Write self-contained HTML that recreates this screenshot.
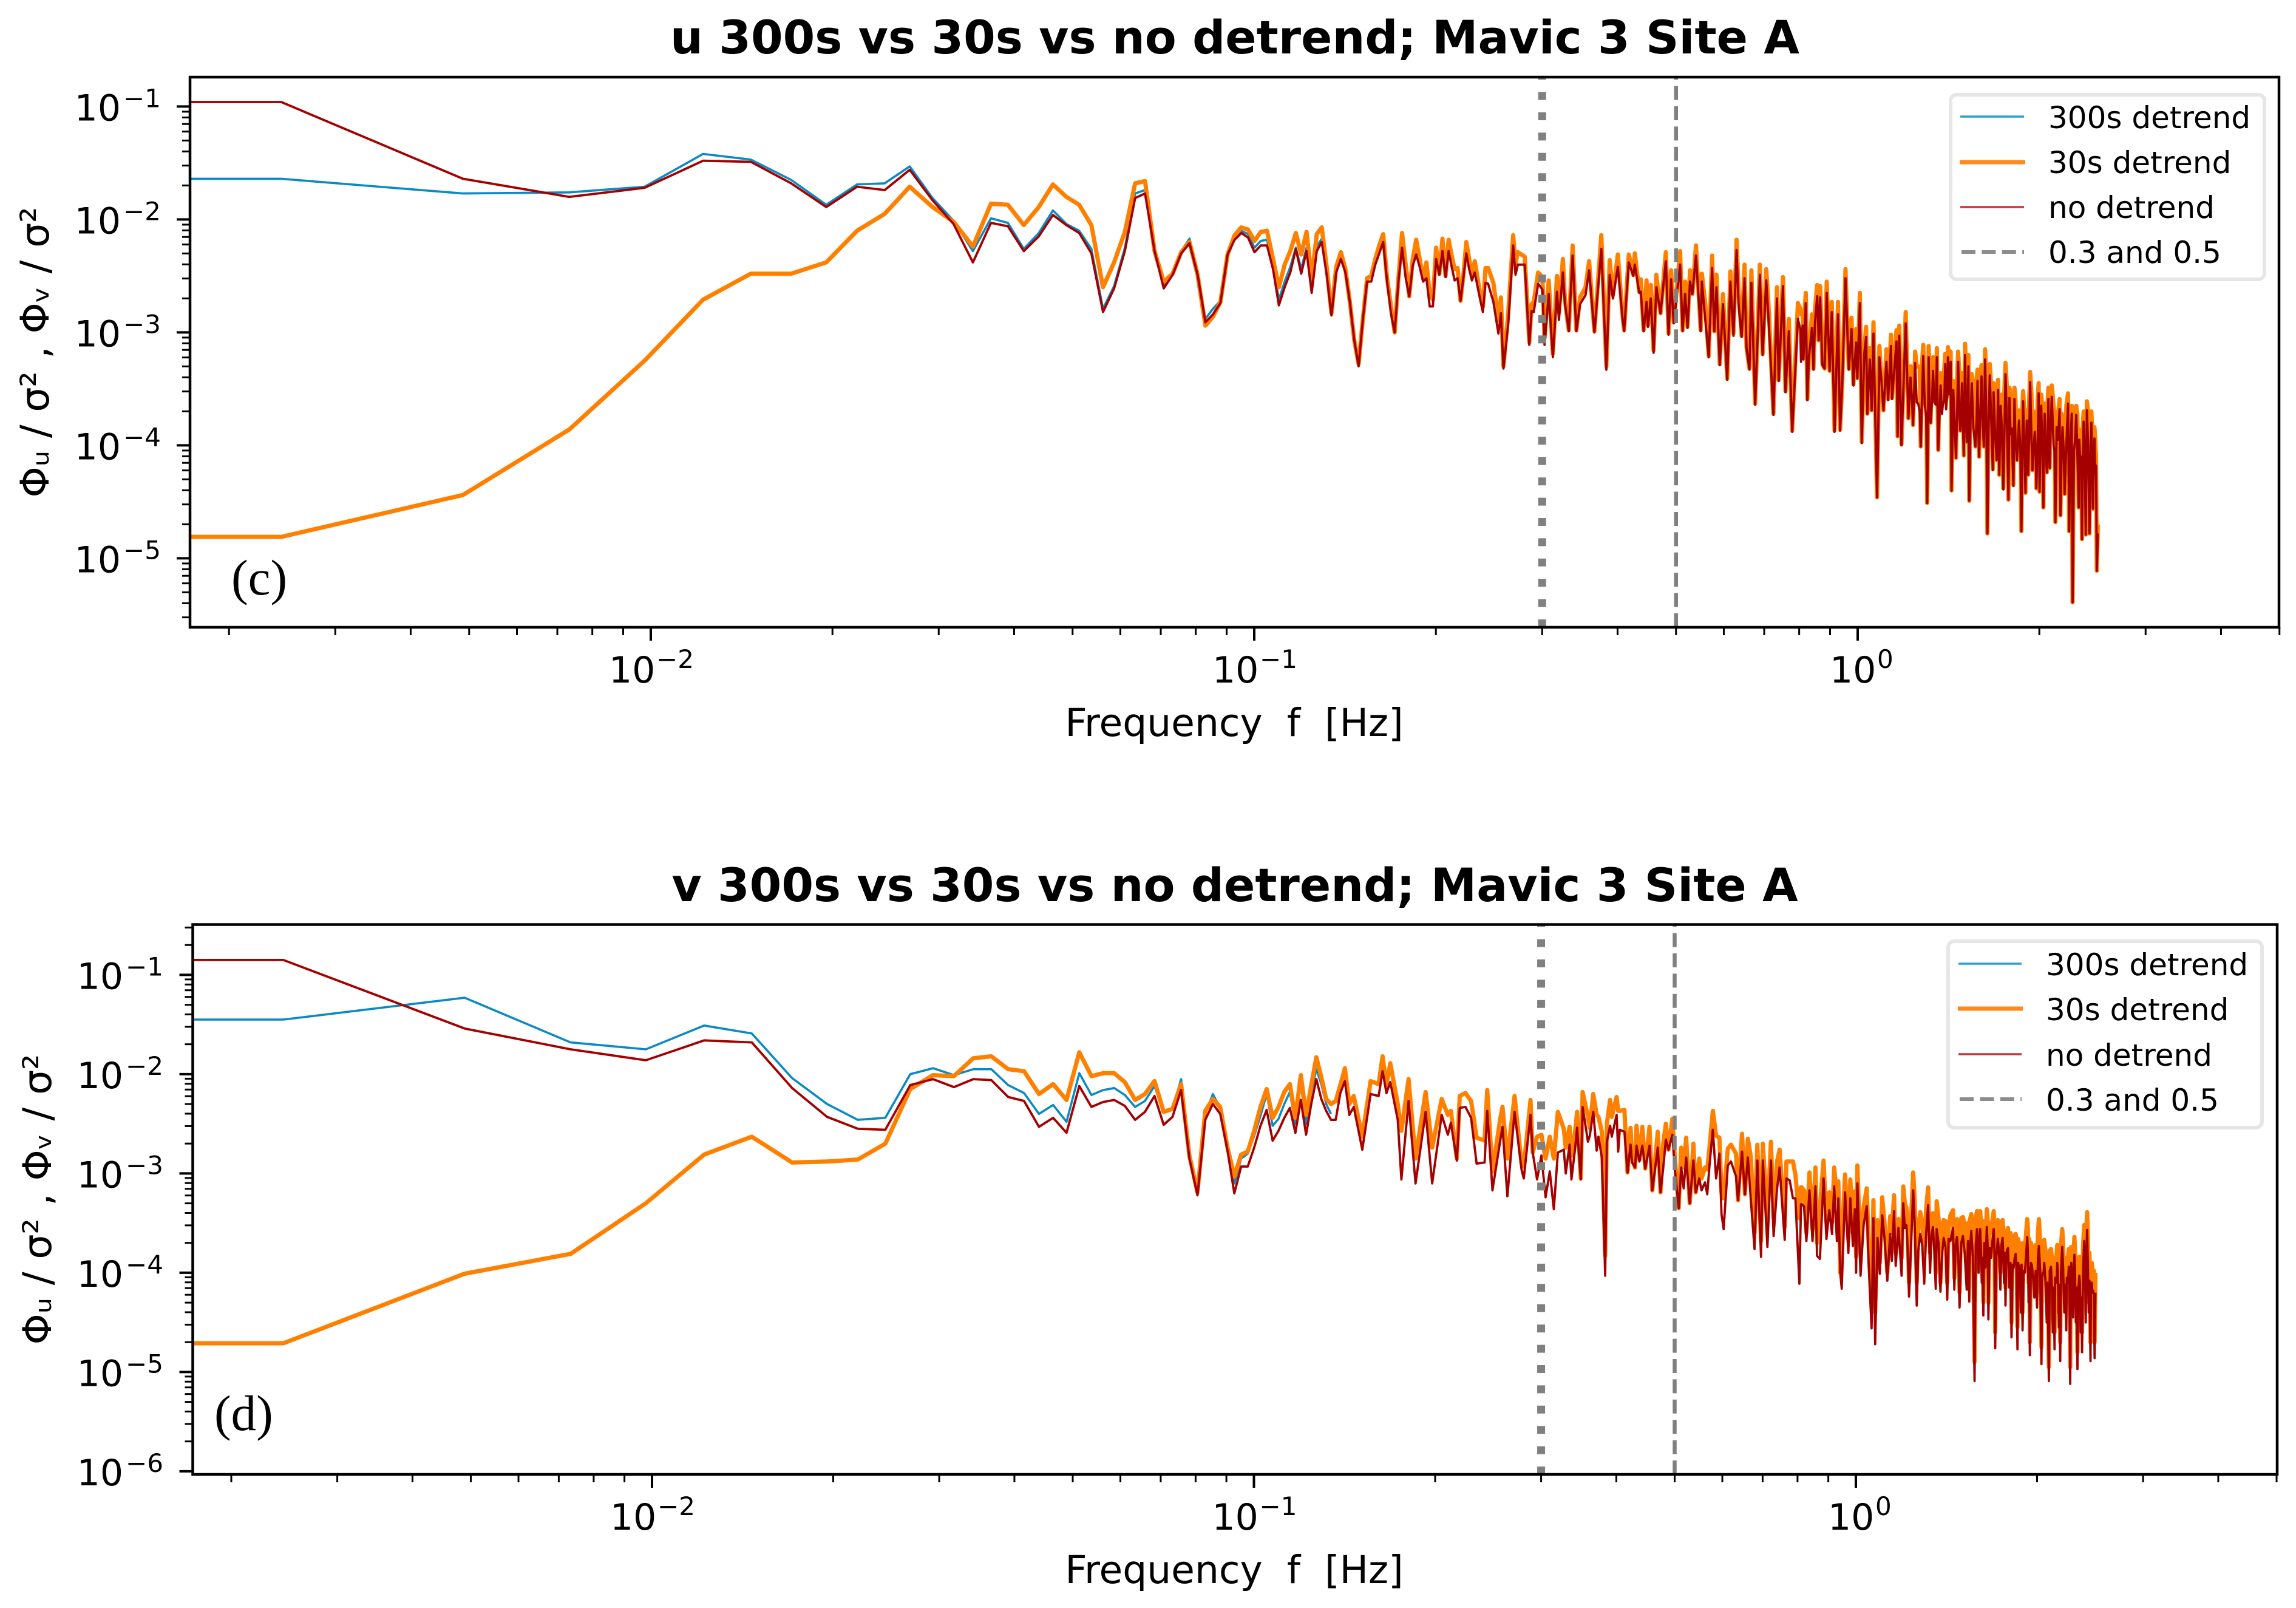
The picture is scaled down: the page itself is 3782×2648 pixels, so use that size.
<!DOCTYPE html>
<html lang="en">
<head>
<meta charset="utf-8">
<title>u and v 300s vs 30s vs no detrend; Mavic 3 Site A</title>
<style>
  html, body { margin: 0; padding: 0; background: #ffffff; }
  svg { display: block; }
  text { font-family: "DejaVu Sans", "Liberation Sans", sans-serif; fill: #000; white-space: pre; }
  .title { font-size: 75.7px; font-weight: bold; text-anchor: middle; }
  .axis-label { font-size: 63px; text-anchor: middle; }
  .y-title { font-size: 65px; text-anchor: middle; }
  .legend-text { font-size: 50px; }
  .panel-tag { font-family: "Liberation Serif", serif; font-size: 83px; }
  .tick-label { font-size: 60px; }
</style>
</head>
<body>
<svg id="figure" xmlns="http://www.w3.org/2000/svg" width="3782" height="2648" viewBox="0 0 3782 2648">
  <rect width="3782" height="2648" fill="#ffffff"/>
  <g id="panel-c"></g>
  <g id="panel-d"></g>

  <text class="title" x="2034" y="88">u 300s vs 30s vs no detrend; Mavic 3 Site A</text>
  <text class="axis-label" x="2033" y="1212">Frequency  f  [Hz]</text>
  <text class="y-title" transform="translate(80 580) rotate(-90)" x="0" y="0">Φᵤ / σ² , Φᵥ / σ²</text>
  <text class="panel-tag" x="381" y="979">(c)</text>

  <text class="title" x="2034" y="1484">v 300s vs 30s vs no detrend; Mavic 3 Site A</text>
  <text class="axis-label" x="2033" y="2607">Frequency  f  [Hz]</text>
  <text class="y-title" transform="translate(84 1975) rotate(-90)" x="0" y="0">Φᵤ / σ² , Φᵥ / σ²</text>
  <text class="panel-tag" x="353" y="2355">(d)</text>

  <g>
    <rect x="3213" y="156" width="517" height="304" rx="10" fill="#ffffff" stroke="#e6e6e6" stroke-width="6"/>
    <line x1="3229" x2="3334" y1="192" y2="192" stroke="#2f9fd2" stroke-width="3.5"/>
    <text class="legend-text" x="3374" y="211">300s detrend</text>
    <line x1="3228" x2="3336" y1="267" y2="267" stroke="#ff8a1c" stroke-width="7"/>
    <text class="legend-text" x="3374" y="285">30s detrend</text>
    <line x1="3229" x2="3334" y1="341" y2="341" stroke="#c23a3a" stroke-width="3.5"/>
    <text class="legend-text" x="3374" y="359">no detrend</text>
    <line x1="3231" x2="3334" y1="415" y2="415" stroke="#8c8c8c" stroke-width="6" stroke-dasharray="23 10.4"/>
    <text class="legend-text" x="3374" y="433">0.3 and 0.5</text>
  </g>

  <g>
    <rect x="3209" y="1550" width="517" height="307" rx="10" fill="#ffffff" stroke="#e6e6e6" stroke-width="6"/>
    <line x1="3226" x2="3330" y1="1587" y2="1587" stroke="#2f9fd2" stroke-width="3.5"/>
    <text class="legend-text" x="3370" y="1606">300s detrend</text>
    <line x1="3225" x2="3332" y1="1661" y2="1661" stroke="#ff8a1c" stroke-width="7"/>
    <text class="legend-text" x="3370" y="1680">30s detrend</text>
    <line x1="3226" x2="3330" y1="1736" y2="1736" stroke="#c23a3a" stroke-width="3.5"/>
    <text class="legend-text" x="3370" y="1755">no detrend</text>
    <line x1="3228" x2="3330" y1="1810" y2="1810" stroke="#8c8c8c" stroke-width="6" stroke-dasharray="23 10.4"/>
    <text class="legend-text" x="3370" y="1829">0.3 and 0.5</text>
  </g>
</svg>

<script>
// Frequency resolution of the spectra [Hz per bin]
const binWidthHz = 5 / 2048;

// Reference frequencies [Hz]
const referenceFrequencies = [0.3, 0.5];

// Tick labels, as powers of ten
const xTickExponents = [-2, -1, 0];
const yTickExponentsC = [-1, -2, -3, -4, -5];
const yTickExponentsD = [-1, -2, -3, -4, -5, -6];

// Panel (c): bin number of each read sample (0.5 = the flat lead-in left of the axis)
const binsC = [
0.5,1,2,3,4,5,6,7,8,9,
10,11,12,13,14,15,16,17,18,19,
20,21,22,23,24,25,26,27,28,29,
30,31,32,33,34,35,36,37,38,39,
40,41,42,43,44,45,46,47,48,49,
50,51,52,53,54,55,56,57,58,59,
60,61,62,63,64,65,66,67,68,69,
70,71,72,73,74,75,76,77,78,79,
80,81,82,83,84,85,86,87,88,89,
90,91,92,93,94,95,96,97,98,99,
100,102,104,105,106,108,110,111,112,115,
117,118,119,121,123,124,126,128,130,131,
133,134,136,138,140,142,145,147,150,154,
157,159,161,164,167,168,171,174,175,178,
179,181,183,184,186,188,190,193,197,199,
201,203,208,210,212,214,216,218,221,225,
226,229,232,235,237,239,242,245,249,252,
255,258,260,263,266,268,271,273,277,282,
285,289,292,297,301,303,308,311,315,319,
326,329,330,332,333,336,338,340,344,346,
348,351,353,355,358,361,364,368,371,375,
380,383,386,391,396,400,403,407,409,413,
416,420,423,425,429,432,435,441,445,448,
452,457,460,465,467,475,477,480,484,492,
497,501,506,510,516,521,526,529,534,537,
541,546,552,554,557,562,567,572,576,578,
584,586,590,596,601,606,610,614,617,621,
625,627,633,642,647,651,657,663,666,672,
678,686,688,696,700,703,707,714,720,728,
731,742,745,752,758,765,770,777,781,785,
791,798,805,810,817,820,825,832,836,843,
848,852,859,871,875,885,888,895,902,914,
918,927,930,943,952,954,964,970,978,982,
992,999,1005,1011,1017,1020,1024
];

// Panel (c): 30 s detrend, log10 of normalised spectrum
const thirtySecondC = [
-4.81,-4.81,-4.44,-3.86,-3.25,-2.71,-2.48,-2.48,-2.38,-2.10,
-1.95,-1.71,-1.89,-2.02,-2.24,-1.86,-1.87,-2.05,-1.89,-1.69,
-1.80,-1.87,-2.05,-2.60,-2.38,-2.11,-1.68,-1.66,-2.28,-2.55,
-2.48,-2.29,-2.20,-2.49,-2.94,-2.86,-2.73,-2.31,-2.14,-2.07,
-2.09,-2.19,-2.11,-2.10,-2.35,-2.60,-2.40,-2.28,-2.12,-2.31,
-2.11,-2.52,-2.13,-2.07,-2.42,-2.83,-2.42,-2.29,-2.44,-2.73,
-3.07,-3.28,-2.88,-2.52,-2.50,-2.35,-2.23,-2.13,-2.52,-2.76,
-3.00,-2.52,-2.12,-2.40,-2.68,-2.35,-2.18,-2.35,-2.52,-2.38,
-2.66,-2.71,-2.25,-2.48,-2.17,-2.50,-2.18,-2.32,-2.44,-2.43,
-2.72,-2.49,-2.20,-2.35,-2.51,-2.37,-2.51,-2.66,-2.77,-2.43,
-2.43,-2.56,-2.89,-2.69,-3.30,-2.82,-2.14,-2.39,-2.29,-2.33,
-3.09,-2.75,-2.73,-2.47,-2.51,-3.05,-2.54,-3.19,-2.50,-2.82,
-2.35,-2.71,-2.98,-2.23,-2.98,-2.69,-2.60,-2.37,-2.99,-2.14,
-3.30,-2.36,-2.67,-2.31,-2.85,-2.98,-2.31,-2.49,-2.30,-2.64,
-2.53,-2.98,-2.54,-2.94,-2.58,-3.16,-2.49,-2.83,-2.29,-3.01,
-2.45,-2.91,-2.28,-2.98,-2.55,-2.95,-2.45,-2.66,-2.23,-2.98,
-2.48,-2.75,-3.21,-2.32,-2.99,-2.49,-3.28,-2.66,-3.41,-2.46,
-3.01,-2.18,-2.64,-3.03,-2.40,-3.13,-3.32,-2.45,-3.63,-2.40,
-3.19,-2.44,-2.83,-3.72,-2.60,-3.42,-2.51,-3.52,-2.88,-3.87,
-2.74,-2.79,-2.84,-2.82,-2.97,-2.65,-3.59,-3.20,-2.84,-3.32,
-2.80,-2.58,-3.07,-2.59,-3.28,-3.32,-2.55,-3.34,-2.73,-3.87,
-2.73,-3.86,-3.47,-2.44,-3.32,-2.87,-3.46,-2.97,-3.40,-2.65,
-3.97,-3.15,-2.95,-3.72,-3.14,-3.69,-2.91,-4.46,-3.12,-3.40,
-3.69,-3.15,-3.59,-3.02,-3.58,-2.98,-3.92,-2.94,-3.99,-2.82,
-3.76,-3.30,-3.82,-3.17,-3.30,-4.01,-3.11,-3.63,-4.51,-3.12,
-3.80,-3.22,-3.63,-3.14,-4.04,-3.36,-3.63,-3.19,-3.57,-3.13,
-3.17,-4.40,-3.43,-4.11,-3.17,-3.87,-3.36,-4.09,-3.10,-3.97,
-3.20,-4.49,-3.37,-4.01,-3.33,-4.10,-3.29,-4.01,-3.15,-4.78,
-3.28,-4.21,-3.45,-4.13,-3.42,-4.26,-3.56,-4.38,-3.27,-4.48,
-3.49,-4.35,-3.49,-4.13,-3.69,-4.76,-3.52,-4.42,-3.69,-4.26,
-3.35,-4.22,-3.78,-4.38,-3.45,-4.41,-3.55,-4.55,-3.63,-4.24,
-3.49,-4.20,-3.47,-4.68,-3.74,-3.59,-4.62,-3.74,-4.43,-3.54,
-4.76,-3.65,-5.39,-3.65,-4.55,-3.86,-4.83,-3.70,-4.79,-3.61,
-4.78,-3.70,-4.56,-3.84,-4.11,-5.11,-4.70
];

// Panel (c): no detrend, log10 of normalised spectrum
const noDetrendC = [
-0.96,-0.96,-1.64,-1.80,-1.72,-1.48,-1.49,-1.68,-1.89,-1.71,
-1.74,-1.56,-1.83,-2.04,-2.38,-2.03,-2.06,-2.28,-2.15,-1.96,
-2.05,-2.12,-2.30,-2.82,-2.61,-2.28,-1.81,-1.77,-2.28,-2.61,
-2.49,-2.30,-2.21,-2.49,-2.91,-2.84,-2.74,-2.31,-2.18,-2.12,
-2.16,-2.29,-2.23,-2.23,-2.44,-2.76,-2.60,-2.47,-2.26,-2.48,
-2.28,-2.65,-2.28,-2.20,-2.49,-2.85,-2.47,-2.35,-2.47,-2.73,
-3.07,-3.30,-2.88,-2.55,-2.55,-2.40,-2.30,-2.20,-2.55,-2.83,
-3.00,-2.55,-2.25,-2.52,-2.68,-2.41,-2.31,-2.42,-2.55,-2.52,
-2.77,-2.77,-2.35,-2.49,-2.28,-2.51,-2.28,-2.42,-2.54,-2.52,
-2.72,-2.51,-2.30,-2.44,-2.54,-2.47,-2.59,-2.71,-2.82,-2.56,
-2.57,-2.73,-3.01,-2.83,-3.32,-2.92,-2.23,-2.49,-2.40,-2.40,
-3.11,-2.81,-2.82,-2.57,-2.62,-3.11,-2.66,-3.22,-2.64,-2.89,
-2.47,-2.74,-2.99,-2.32,-2.99,-2.75,-2.67,-2.45,-3.00,-2.26,
-3.33,-2.49,-2.70,-2.42,-2.88,-2.99,-2.38,-2.50,-2.40,-2.65,
-2.64,-2.99,-2.73,-2.95,-2.70,-3.18,-2.60,-2.83,-2.37,-3.02,
-2.53,-2.92,-2.40,-2.99,-2.66,-2.96,-2.55,-2.66,-2.32,-2.99,
-2.55,-2.89,-3.22,-2.43,-2.99,-2.60,-3.29,-2.75,-3.42,-2.55,
-3.03,-2.27,-2.75,-3.04,-2.52,-3.14,-3.33,-2.56,-3.64,-2.49,
-3.20,-2.54,-2.96,-3.73,-2.70,-3.43,-2.59,-3.53,-2.99,-3.88,
-2.88,-2.97,-3.26,-2.94,-3.24,-2.74,-3.60,-3.22,-2.96,-3.33,
-2.92,-2.68,-3.07,-2.69,-3.29,-3.32,-2.65,-3.34,-2.82,-3.88,
-2.84,-3.87,-3.48,-2.52,-3.33,-2.97,-3.47,-3.09,-3.41,-2.74,
-3.98,-3.19,-3.04,-3.72,-3.24,-3.69,-3.01,-4.46,-3.22,-3.40,
-3.69,-3.26,-3.60,-3.12,-3.59,-3.08,-3.92,-3.03,-4.00,-2.92,
-3.76,-3.40,-3.82,-3.27,-3.63,-4.01,-3.21,-3.64,-4.51,-3.22,
-3.80,-3.34,-3.64,-3.22,-4.04,-3.47,-3.63,-3.28,-3.57,-3.22,
-3.26,-4.40,-3.51,-4.11,-3.26,-3.87,-3.45,-4.09,-3.20,-3.97,
-3.30,-4.49,-3.45,-4.01,-3.43,-4.10,-3.39,-4.01,-3.24,-4.78,
-3.38,-4.22,-3.53,-4.13,-3.51,-4.26,-3.65,-4.39,-3.37,-4.48,
-3.58,-4.36,-3.59,-4.13,-3.78,-4.76,-3.61,-4.42,-3.78,-4.26,
-3.44,-4.22,-3.88,-4.38,-3.54,-4.41,-3.65,-4.55,-3.72,-4.24,
-3.59,-4.20,-3.57,-4.68,-3.84,-3.68,-4.62,-3.84,-4.43,-3.63,
-4.76,-3.72,-5.39,-3.73,-4.55,-3.95,-4.83,-3.79,-4.79,-3.69,
-4.78,-3.80,-4.56,-3.94,-4.18,-5.11,-4.78
];

// Panel (c): extra samples in the dense high-frequency band (level of the solid band)
const denseBinsC = [
504,513,519,524,532,539,544,549,560,565,
570,574,581,593,599,604,608,612,619,623,
630,637,645,649,654,660,669,675,682,692,
698,705,710,717,724,734,737,748,755,762,
768,774,779,788,795,802,808,814,823,829,
834,840,846,850,855,865,868,880,892,899,
908,922,935,939,947,958,961,967,974,987,
996,1002,1008,1014
];
const denseThirtySecondC = [
-3.35,-3.30,-3.32,-3.25,-3.45,-3.35,-3.30,-3.32,-3.38,-3.40,
-3.32,-3.35,-3.25,-3.50,-3.35,-3.40,-3.42,-3.45,-3.35,-3.40,
-3.45,-3.48,-3.42,-3.45,-3.40,-3.45,-3.40,-3.48,-3.50,-3.55,
-3.55,-3.58,-3.55,-3.50,-3.50,-3.55,-3.58,-3.60,-3.72,-3.75,
-3.65,-3.70,-3.72,-3.60,-3.55,-3.70,-3.80,-3.60,-3.62,-3.68,
-3.70,-3.72,-3.60,-3.65,-3.60,-3.65,-3.72,-3.72,-3.72,-3.80,
-3.65,-3.72,-3.75,-3.70,-3.72,-3.92,-3.90,-3.82,-3.78,-3.70,
-3.80,-3.85,-3.92,-3.95
];
const denseNoDetrendC = [
-3.60,-3.62,-3.70,-3.50,-3.75,-3.65,-3.60,-3.62,-3.70,-3.72,
-3.60,-3.68,-3.55,-3.80,-3.65,-3.75,-3.70,-3.80,-3.65,-3.72,
-3.78,-3.85,-3.75,-3.85,-3.70,-3.80,-3.70,-3.85,-3.80,-3.90,
-3.85,-3.95,-3.85,-3.90,-3.80,-3.90,-3.85,-3.95,-4.00,-4.05,
-3.95,-4.05,-4.00,-3.90,-3.95,-4.00,-4.10,-3.95,-3.90,-4.05,
-3.95,-4.05,-3.90,-4.00,-3.90,-4.00,-4.05,-3.95,-4.05,-4.05,
-4.00,-4.00,-4.05,-3.95,-4.05,-4.15,-4.10,-4.10,-4.05,-4.00,
-4.10,-4.15,-4.20,-4.25
];

// Panel (c): 300 s detrend. Read up to bin 60; above that it sits hidden between the other two lines.
const threeHundredSecondC = [
-1.64,-1.64,-1.77,-1.76,-1.71,-1.42,-1.47,-1.65,-1.87,-1.69,
-1.68,-1.53,-1.81,-2.01,-2.28,-1.99,-2.03,-2.26,-2.12,-1.92,
-2.04,-2.10,-2.26,-2.79,-2.59,-2.25,-1.77,-1.74,-2.25,-2.59,
-2.49,-2.28,-2.17,-2.47,-2.88,-2.79,-2.72,-2.30,-2.17,-2.10,
-2.13,-2.25,-2.19,-2.18,-2.40,-2.71,-2.55,-2.42,-2.25,-2.44,
-2.25,-2.61,-2.24,-2.17,-2.46,-2.84,-2.45,-2.32,-2.46,-2.73,
-3.07
];

// Panel (d): bin number of each read sample
const binsD = [
0.5,1,2,3,4,5,6,7,8,9,
10,11,12,13,14,15,16,17,18,19,
20,21,22,23,24,25,26,27,28,29,
30,31,32,33,34,35,36,37,38,39,
40,41,42,43,44,45,46,47,48,49,
50,51,52,53,54,55,56,57,58,59,
60,62,64,66,67,68,69,71,72,74,
76,79,81,84,86,87,89,90,92,94,
96,99,100,102,105,106,108,111,114,115,
118,119,121,123,125,127,129,131,134,135,
137,138,140,141,143,144,147,148,150,152,
153,155,157,158,160,161,164,165,166,169,
171,173,174,176,177,179,181,183,186,188,
192,194,196,198,200,203,205,208,210,212,
214,217,220,222,225,227,230,232,234,237,
240,243,245,247,251,254,259,261,265,268,
271,274,278,281,285,287,292,296,299,303,
306,312,314,318,322,325,330,332,333,336,
339,343,347,351,353,357,362,366,370,374,
377,381,383,386,388,393,398,401,405,408,
410,412,417,422,427,430,435,438,441,445,
449,453,457,462,467,470,474,477,482,488,
491,497,502,510,517,524,532,540,544,550,
556,558,566,573,581,584,594,597,603,609,
617,626,632,637,645,651,655,659,663,667,
672,676,680,687,694,698,705,712,718,722,
726,730,737,743,749,755,760,765,770,775,
782,789,793,797,803,811,819,825,833,838,
842,850,857,864,870,876,881,885,890,895,
902,909,916,920,925,930,934,940,945,950,
956,963,968,973,981,987,992,998,1005,1010,
1015,1021,1024
];

// Panel (d): 30 s detrend, log10 of normalised spectrum
const thirtySecondD = [
-4.71,-4.71,-4.01,-3.81,-3.30,-2.81,-2.63,-2.89,-2.88,-2.86,
-2.70,-2.15,-2.01,-2.02,-1.84,-1.82,-1.95,-1.97,-2.20,-2.10,
-2.26,-1.78,-2.02,-1.99,-1.99,-2.08,-2.26,-2.20,-2.07,-2.38,
-2.35,-2.10,-2.82,-3.19,-2.37,-2.25,-2.33,-2.73,-3.03,-2.81,
-2.78,-2.57,-2.33,-2.15,-2.44,-2.33,-2.18,-2.10,-2.44,-2.01,
-2.41,-2.11,-1.83,-2.03,-2.25,-2.30,-2.27,-2.11,-1.94,-2.30,
-2.22,-2.63,-2.07,-2.10,-1.82,-2.11,-1.89,-2.30,-2.57,-2.05,
-2.85,-2.18,-2.74,-2.25,-2.41,-2.37,-2.85,-2.22,-2.19,-2.27,
-2.64,-2.67,-2.16,-2.98,-2.46,-2.33,-2.85,-2.22,-2.90,-2.93,
-2.26,-2.79,-2.63,-2.61,-2.85,-2.63,-2.85,-2.38,-2.55,-2.74,
-2.53,-2.82,-2.57,-2.38,-3.05,-2.18,-2.43,-2.54,-2.20,-2.41,
-2.43,-2.58,-3.83,-2.50,-2.26,-2.43,-2.23,-2.37,-2.37,-2.36,
-2.99,-2.54,-2.84,-2.94,-2.52,-2.86,-2.53,-2.95,-2.53,-3.17,
-2.58,-3.19,-2.70,-2.50,-2.76,-2.45,-2.84,-3.35,-2.74,-2.94,
-2.64,-3.30,-2.70,-3.19,-2.85,-3.05,-2.94,-2.96,-2.74,-2.37,
-2.62,-2.64,-3.19,-3.25,-2.75,-2.71,-2.80,-3.27,-2.60,-3.21,
-2.65,-2.83,-3.60,-2.71,-3.68,-2.70,-3.45,-2.68,-3.45,-2.88,
-2.76,-3.54,-2.88,-2.88,-2.88,-3.01,-3.45,-3.14,-3.14,-3.17,
-3.60,-2.99,-3.56,-2.94,-3.70,-3.33,-2.87,-3.49,-3.19,-3.49,
-2.94,-3.25,-3.08,-4.00,-3.70,-3.01,-3.66,-3.06,-3.60,-3.18,
-3.84,-2.92,-3.82,-3.34,-3.15,-3.70,-4.35,-3.27,-4.40,-3.47,
-3.90,-3.24,-3.50,-4.00,-3.43,-3.60,-3.22,-3.80,-3.46,-3.85,
-3.13,-3.35,-4.10,-2.99,-4.10,-3.39,-3.80,-3.14,-3.80,-3.40,
-4.00,-3.28,-4.10,-3.47,-4.10,-3.55,-3.37,-4.05,-3.46,-4.20,
-3.44,-3.90,-3.90,-3.41,-4.90,-3.38,-3.80,-3.38,-3.90,-4.30,
-3.80,-3.36,-4.30,-3.60,-3.38,-4.60,-3.47,-4.00,-3.47,-3.90,
-4.15,-3.60,-3.95,-4.50,-3.75,-3.61,-4.55,-3.78,-4.20,-4.40,
-3.80,-3.46,-4.10,-4.70,-3.74,-4.05,-4.20,-3.46,-4.75,-3.80,
-3.67,-4.30,-4.95,-3.76,-4.40,-4.60,-3.90,-3.72,-4.40,-4.70,
-3.56,-4.20,-4.30,-3.90,-3.76,-4.95,-3.74,-4.30,-3.64,-4.30,
-4.80,-3.84,-4.40,-4.60,-3.52,-4.30,-3.39,-4.20,-4.70,-3.90,
-4.00,-4.70,-4.00
];

// Panel (d): no detrend, log10 of normalised spectrum
const noDetrendD = [
-0.85,-0.85,-1.54,-1.75,-1.86,-1.66,-1.68,-2.14,-2.43,-2.55,
-2.56,-2.11,-2.05,-2.13,-2.05,-2.06,-2.23,-2.27,-2.53,-2.44,
-2.59,-2.12,-2.33,-2.28,-2.26,-2.32,-2.46,-2.38,-2.22,-2.51,
-2.43,-2.16,-2.85,-3.22,-2.46,-2.30,-2.40,-2.76,-3.20,-2.93,
-2.93,-2.74,-2.52,-2.36,-2.67,-2.57,-2.44,-2.34,-2.59,-2.26,
-2.61,-2.30,-2.05,-2.25,-2.37,-2.46,-2.46,-2.19,-2.07,-2.41,
-2.33,-2.76,-2.20,-2.22,-1.97,-2.19,-2.08,-2.46,-3.06,-2.27,
-3.10,-2.38,-3.10,-2.41,-2.61,-2.49,-2.87,-2.34,-2.33,-2.44,
-2.90,-2.89,-2.37,-3.17,-2.68,-2.53,-3.23,-2.38,-2.96,-3.05,
-2.41,-2.79,-3.06,-2.82,-3.24,-2.98,-3.36,-2.79,-2.76,-3.00,
-2.71,-3.06,-2.74,-2.54,-3.06,-2.33,-2.68,-2.62,-2.38,-2.77,
-2.63,-2.84,-4.03,-2.68,-2.52,-2.63,-2.41,-2.78,-2.56,-2.58,
-2.99,-2.71,-2.89,-2.94,-2.72,-2.88,-2.72,-2.95,-2.72,-3.17,
-2.74,-3.19,-2.95,-2.66,-2.76,-2.61,-2.96,-3.35,-2.94,-3.15,
-2.84,-3.30,-2.87,-3.19,-3.05,-3.17,-3.09,-3.21,-2.92,-2.56,
-3.05,-2.80,-3.41,-3.56,-2.92,-2.88,-3.03,-3.27,-2.78,-3.21,
-2.84,-3.26,-3.76,-2.87,-3.84,-2.87,-3.74,-2.87,-3.63,-3.15,
-2.94,-3.67,-3.05,-3.07,-3.25,-3.25,-4.11,-3.31,-3.31,-3.33,
-3.68,-3.17,-3.68,-3.13,-3.83,-3.86,-3.05,-3.66,-3.37,-3.61,
-3.13,-3.68,-3.25,-4.01,-4.16,-3.19,-3.80,-3.25,-3.73,-3.36,
-4.00,-3.10,-4.03,-3.52,-3.33,-3.88,-4.56,-3.45,-4.72,-3.65,
-4.01,-3.42,-3.65,-4.08,-3.61,-3.88,-3.38,-3.93,-3.55,-4.03,
-3.30,-3.52,-4.24,-3.17,-4.33,-3.61,-4.11,-3.32,-4.00,-3.54,
-4.16,-3.56,-4.19,-3.65,-4.27,-3.66,-3.55,-4.17,-3.64,-4.35,
-3.63,-4.17,-4.29,-3.58,-5.09,-3.56,-4.00,-3.56,-4.10,-4.43,
-3.95,-3.54,-4.47,-3.85,-3.56,-4.76,-3.66,-4.17,-3.65,-4.10,
-4.33,-3.78,-4.15,-4.65,-3.95,-3.81,-4.77,-3.95,-4.40,-4.58,
-4.00,-3.64,-4.30,-4.83,-3.92,-4.25,-4.35,-3.73,-4.92,-4.00,
-3.90,-4.50,-5.09,-3.94,-4.60,-4.77,-4.10,-3.90,-4.55,-4.89,
-3.74,-4.40,-4.58,-4.10,-3.94,-5.12,-3.90,-4.45,-3.82,-4.50,
-4.97,-4.03,-4.60,-4.80,-3.68,-4.50,-3.57,-4.40,-4.89,-4.10,
-4.18,-4.86,-4.20
];

// Panel (d): extra samples in the dense high-frequency band (level of the solid band)
const denseBinsD = [
494,499,506,513,520,528,536,547,553,562,
570,577,588,600,606,613,621,629,634,641,
648,653,661,665,669,678,683,690,696,701,
708,715,720,724,728,733,740,746,752,757,
762,767,772,778,785,791,795,800,807,815,
822,829,835,840,846,853,860,867,873,878,
883,887,892,898,905,912,918,922,927,932,
937,942,947,953,959,965,970,977,984,989,
995,1001,1007,1012,1018
];
const denseThirtySecondD = [
-3.30,-3.50,-3.45,-3.25,-3.55,-3.50,-3.35,-3.42,-3.50,-3.45,
-3.52,-3.48,-3.42,-3.50,-3.58,-3.45,-3.52,-3.50,-3.46,-3.55,
-3.45,-3.48,-3.50,-3.55,-3.48,-3.45,-3.50,-3.48,-3.52,-3.55,
-3.52,-3.50,-3.55,-3.58,-3.62,-3.55,-3.60,-3.65,-3.62,-3.68,
-3.66,-3.70,-3.72,-3.70,-3.62,-3.55,-3.66,-3.70,-3.78,-3.72,
-3.60,-3.70,-3.80,-3.75,-3.78,-3.82,-3.78,-3.85,-3.88,-3.85,
-3.80,-3.78,-3.85,-3.72,-3.70,-3.85,-3.88,-3.85,-3.85,-3.84,
-3.80,-3.78,-3.76,-3.88,-3.92,-3.94,-3.96,-3.72,-3.65,-3.60,
-3.62,-3.80,-3.92,-3.95,-3.98
];
const denseNoDetrendD = [
-3.55,-3.72,-3.70,-3.50,-3.78,-3.72,-3.60,-3.62,-3.78,-3.70,
-3.80,-3.74,-3.68,-3.72,-3.82,-3.70,-3.80,-3.68,-3.75,-3.85,
-3.72,-3.66,-3.78,-3.85,-3.70,-3.72,-3.75,-3.70,-3.80,-3.85,
-3.78,-3.72,-3.85,-3.80,-3.88,-3.75,-3.90,-3.92,-3.85,-3.95,
-3.90,-4.00,-3.92,-3.98,-3.85,-3.80,-3.95,-3.90,-4.05,-3.98,
-3.85,-3.98,-4.05,-4.00,-4.08,-4.10,-3.98,-4.12,-4.15,-4.05,
-4.08,-3.98,-4.12,-3.98,-3.95,-4.12,-4.05,-4.10,-4.05,-4.10,
-4.02,-4.10,-3.98,-4.15,-4.18,-4.10,-4.25,-3.98,-3.92,-3.88,
-3.92,-4.08,-4.15,-4.20,-4.22
];

// Panel (d): 300 s detrend. Read up to bin 55; above that it sits hidden between the other two lines.
const threeHundredSecondD = [
-1.45,-1.45,-1.23,-1.68,-1.75,-1.51,-1.59,-2.04,-2.30,-2.46,
-2.44,-2.00,-1.94,-2.01,-1.95,-1.95,-2.11,-2.19,-2.40,-2.31,
-2.48,-1.99,-2.21,-2.16,-2.14,-2.21,-2.33,-2.27,-2.12,-2.38,
-2.35,-2.05,-2.83,-3.20,-2.40,-2.20,-2.34,-2.74,-3.10,-2.85,
-2.80,-2.62,-2.42,-2.20,-2.52,-2.45,-2.30,-2.18,-2.50,-2.10,
-2.50,-2.18,-1.95,-2.10,-2.30,-2.40
];

// Layout of each panel (pixels), kept apart from the data
const layoutC = { left: 313, right: 3754, top: 127, bottom: 1033, xAtMinus2: 1072, xDecade: 994, yAtMinus1: 175.4, yDecade: 186, yLabelRight: 199, expLeft: 203, xLabelBase: 1124 };
const layoutD = { left: 317.5, right: 3751, top: 1522.5, bottom: 2428, xAtMinus2: 1074, xDecade: 991.5, yAtMinus1: 1605.4, yDecade: 163.5, yLabelRight: 203, expLeft: 207, xLabelBase: 2519 };

const SVG_NS = 'http://www.w3.org/2000/svg';

function make(tag, attrs, parent) {
  const el = document.createElementNS(SVG_NS, tag);
  for (const key in attrs) el.setAttribute(key, attrs[key]);
  parent.appendChild(el);
  return el;
}

function drawPanel(root, id, box, yExponents, bins, denseBins, series) {
  const xOfLog = (logF) => box.xAtMinus2 + (logF + 2) * box.xDecade;
  const xOfBin = (bin) => xOfLog(Math.log10(bin * binWidthHz));
  const xOfHz = (hz) => xOfLog(Math.log10(hz));
  const yOf = (logPhi) => box.yAtMinus1 + (-1 - logPhi) * box.yDecade;

  const clip = make('clipPath', { id: id + '-clip' }, root);
  make('rect', { x: box.left, y: box.top, width: box.right - box.left, height: box.bottom - box.top }, clip);

  // Series lines: main samples merged with dense-band samples in frequency order
  for (const s of series) {
    const samples = s.values.map((v, i) => [bins[i], v]);
    (s.dense || []).forEach((v, i) => samples.push([denseBins[i], v]));
    samples.sort((a, b) => a[0] - b[0]);
    const pts = samples.map((p) => xOfBin(p[0]).toFixed(1) + ',' + yOf(p[1]).toFixed(1)).join(' ');
    const line = make('polyline', { points: pts, fill: 'none', stroke: s.color, 'stroke-width': s.width, 'stroke-linejoin': 'round', 'clip-path': 'url(#' + id + '-clip)' }, root);
    
    
  }

  // Reference lines, drawn bottom to top so the dash phase starts at the axis
  const dotted = make('line', { x1: xOfHz(referenceFrequencies[0]), x2: xOfHz(referenceFrequencies[0]), y1: box.bottom, y2: box.top, stroke: '#808080', 'stroke-width': 13, 'stroke-dasharray': '13 20.4' }, root);
  
  
  const dashed = make('line', { x1: xOfHz(referenceFrequencies[1]), x2: xOfHz(referenceFrequencies[1]), y1: box.bottom, y2: box.top, stroke: '#808080', 'stroke-width': 6.5, 'stroke-dasharray': '23 10.4' }, root);
  
  

  // X ticks
  const xLow = (box.left - box.xAtMinus2) / box.xDecade - 2;
  const xHigh = (box.right - box.xAtMinus2) / box.xDecade - 2;
  for (let e = -3; e <= 0; e++) {
    for (let m = 1; m <= 9; m++) {
      const lg = e + Math.log10(m);
      if (lg < xLow - 0.001 || lg > xHigh + 0.002) continue;
      const x = xOfLog(lg);
      const tick = make('line', { x1: x, x2: x, y1: box.bottom, y2: box.bottom + (m === 1 ? 22 : 13), stroke: '#000', 'stroke-width': m === 1 ? 4 : 3 }, root);
      
      
    }
  }
  for (const e of xTickExponents) {
    const x = xOfLog(e);
    const expText = e < 0 ? '\u2212' + (-e) : String(e);
    const shift = e < 0 ? -69 : -46;
    const base = make('text', { x: x + shift, y: box.xLabelBase, class: 'tick-label' }, root);
    base.textContent = '10';
    
    
    const exp = make('text', { x: x + shift + 78, y: box.xLabelBase - 24, style: 'font-size:42px' }, root);
    exp.textContent = expText;
    
    
  }

  // Y ticks
  const yHigh = -1 + (box.yAtMinus1 - box.top) / box.yDecade;
  const yLow = -1 - (box.bottom - box.yAtMinus1) / box.yDecade;
  for (let e = -7; e <= 0; e++) {
    for (let m = 1; m <= 9; m++) {
      const lg = e + Math.log10(m);
      if (lg < yLow || lg > yHigh) continue;
      const y = yOf(lg);
      const tick = make('line', { x1: box.left, x2: box.left - (m === 1 ? 22 : 13), y1: y, y2: y, stroke: '#000', 'stroke-width': m === 1 ? 4 : 3 }, root);
      
      
    }
  }
  for (const e of yExponents) {
    const y = yOf(e);
    const base = make('text', { x: box.yLabelRight, y: y + 23, class: 'tick-label', 'text-anchor': 'end' }, root);
    base.textContent = '10';
    
    
    const exp = make('text', { x: box.expLeft, y: y + 1, style: 'font-size:42px' }, root);
    exp.textContent = '\u2212' + (-e);
    
    
  }

  // Axes frame
  const frame = make('rect', { x: box.left, y: box.top, width: box.right - box.left, height: box.bottom - box.top, fill: 'none', stroke: '#000', 'stroke-width': 4.5 }, root);
  
  
}

drawPanel(document.getElementById('panel-c'), 'panel-c', layoutC, yTickExponentsC, binsC, denseBinsC, [
  { name: '300s-detrend', values: threeHundredSecondC, color: '#0a8ac4', width: 3.6 },
  { name: '30s-detrend', values: thirtySecondC, dense: denseThirtySecondC, color: '#ff8000', width: 7 },
  { name: 'no-detrend', values: noDetrendC, dense: denseNoDetrendC, color: '#a50000', width: 3.8 }
]);
drawPanel(document.getElementById('panel-d'), 'panel-d', layoutD, yTickExponentsD, binsD, denseBinsD, [
  { name: '300s-detrend', values: threeHundredSecondD, color: '#0a8ac4', width: 3.6 },
  { name: '30s-detrend', values: thirtySecondD, dense: denseThirtySecondD, color: '#ff8000', width: 7 },
  { name: 'no-detrend', values: noDetrendD, dense: denseNoDetrendD, color: '#a50000', width: 3.8 }
]);
</script>
</body>
</html>
